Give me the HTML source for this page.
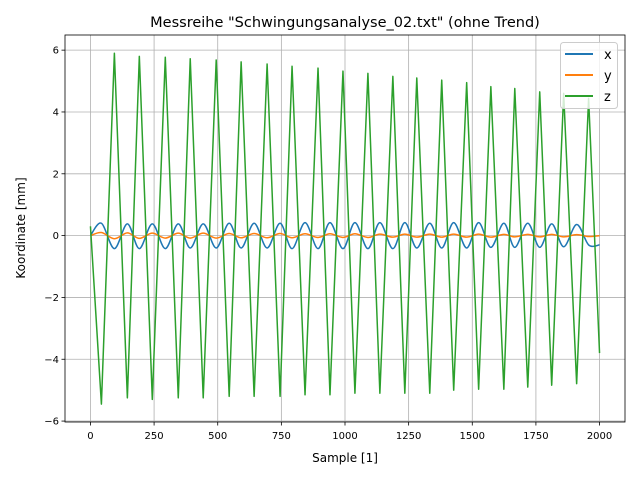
<!DOCTYPE html>
<html><head><meta charset="utf-8"><style>
body{margin:0;background:#fff;font-family:"Liberation Sans","DejaVu Sans",sans-serif}
svg text{font-family:"DejaVu Sans","Liberation Sans",sans-serif}
</style></head><body>
<svg id="chart" width="640" height="480" xmlns="http://www.w3.org/2000/svg">
<rect width="640" height="480" fill="#fff"/>
<g id="grid"></g><g id="series"></g><g id="axes"></g>
<text x="345" y="27" text-anchor="middle" font-size="14.5">Messreihe "Schwingungsanalyse_02.txt" (ohne Trend)</text>
<text x="345" y="462" text-anchor="middle" font-size="12">Sample [1]</text>
<text transform="translate(25,228) rotate(-90)" text-anchor="middle" font-size="12">Koordinate [mm]</text>
<g>
<rect x="560.5" y="42.5" width="57" height="66" rx="3" fill="#fff" fill-opacity="0.8" stroke="#ccc"/>
<g><line x1="565" y1="54" x2="593" y2="54" stroke="#1f77b4" stroke-width="2"/><text x="604" y="59" font-size="13">x</text></g>
<g><line x1="565" y1="75" x2="593" y2="75" stroke="#ff7f0e" stroke-width="2"/><text x="604" y="80" font-size="13">y</text></g>
<g><line x1="565" y1="96" x2="593" y2="96" stroke="#2ca02c" stroke-width="2"/><text x="604" y="101" font-size="13">z</text></g>
</g>
</svg>
<script>
const samples=[0,43,94,145,192,243,294,345,392,443,494,545,592,643,694,745,792,843,894,941,992,1039,1090,1137,1188,1235,1282,1333,1380,1427,1478,1525,1573,1624,1667,1718,1765,1812,1859,1910,1957,2000];
const zValues=[0.3,-5.45,5.9,-5.25,5.8,-5.3,5.77,-5.25,5.72,-5.25,5.68,-5.2,5.62,-5.2,5.55,-5.2,5.48,-5.15,5.42,-5.15,5.32,-5.1,5.25,-5.1,5.15,-5.1,5.1,-5.1,5.03,-5.0,4.95,-4.97,4.82,-4.97,4.76,-4.9,4.65,-4.84,4.6,-4.79,4.44,-3.8];
const xValues=[0.0,0.4,-0.42,0.38,-0.42,0.38,-0.42,0.38,-0.4,0.38,-0.4,0.4,-0.4,0.4,-0.4,0.4,-0.42,0.42,-0.42,0.42,-0.42,0.42,-0.42,0.42,-0.42,0.42,-0.4,0.4,-0.4,0.42,-0.4,0.42,-0.38,0.4,-0.38,0.4,-0.38,0.38,-0.36,0.36,-0.3,-0.3];
const yValues=[0.0,0.1,-0.1,0.09,-0.09,0.08,-0.08,0.08,-0.08,0.08,-0.08,0.07,-0.07,0.07,-0.07,0.07,-0.07,0.06,-0.06,0.06,-0.06,0.06,-0.06,0.05,-0.05,0.05,-0.05,0.05,-0.05,0.05,-0.05,0.05,-0.05,0.04,-0.04,0.04,-0.04,0.04,-0.04,0.03,-0.03,0.0];
const xTicks=[0,250,500,750,1000,1250,1500,1750,2000];
const yTicks=[-6,-4,-2,0,2,4,6];
const L=65,R=625,T=35,B=422,X0=-100,X1=2100,Y0=-6.03,Y1=6.49;
const sx=v=>L+(v-X0)/(X1-X0)*(R-L), sy=v=>B-(v-Y0)/(Y1-Y0)*(B-T);
const NS='http://www.w3.org/2000/svg';
function mk(t,a,p){const e=document.createElementNS(NS,t);for(const k in a)e.setAttribute(k,a[k]);p.appendChild(e);return e;}
const grid=document.getElementById('grid'),axes=document.getElementById('axes'),ser=document.getElementById('series');
xTicks.forEach(t=>{const x=sx(t);
const g=mk('line',{x1:x,x2:x,y1:T,y2:B,stroke:'#b0b0b0','stroke-width':0.8},grid);

mk('line',{x1:x,x2:x,y1:B,y2:B+3.5,stroke:'#000','stroke-width':0.8},axes);
const tx=mk('text',{x:x,y:B+17,'text-anchor':'middle','font-size':10},axes);tx.textContent=t;
});
yTicks.forEach(t=>{const y=sy(t);
const g=mk('line',{x1:L,x2:R,y1:y,y2:y,stroke:'#b0b0b0','stroke-width':0.8},grid);

mk('line',{x1:L-3.5,x2:L,y1:y,y2:y,stroke:'#000','stroke-width':0.8},axes);
const tx=mk('text',{x:L-6,y:y+3.5,'text-anchor':'end','font-size':10},axes);tx.textContent=(t<0?'\u2212':'')+Math.abs(t);
});
const fr=mk('rect',{x:L,y:T,width:R-L,height:B-T,fill:'none',stroke:'#000','stroke-width':0.8},axes);

function smooth(vals){let d='M'+sx(samples[0])+','+sy(vals[0]);
for(let i=0;i<samples.length-1;i++){const p0=i>0?i-1:i,p3=i+2<samples.length?i+2:i+1;
const x1=sx(samples[i]),y1=sy(vals[i]),x2=sx(samples[i+1]),y2=sy(vals[i+1]);
const c1x=x1+(x2-sx(samples[p0]))/6,c1y=y1+(y2-sy(vals[p0]))/6;
const c2x=x2-(sx(samples[p3])-x1)/6,c2y=y2-(sy(vals[p3])-y1)/6;
d+=' C'+c1x+','+c1y+' '+c2x+','+c2y+' '+x2+','+y2;}return d;}
const px=mk('path',{d:smooth(xValues),fill:'none',stroke:'#1f77b4','stroke-width':1.5},ser);

const py=mk('path',{d:smooth(yValues),fill:'none',stroke:'#ff7f0e','stroke-width':1.5},ser);

const pz=mk('polyline',{points:samples.map((s,i)=>sx(s)+','+sy(zValues[i])).join(' '),fill:'none',stroke:'#2ca02c','stroke-width':1.5,'stroke-linejoin':'round'},ser);

</script>
</body></html>
